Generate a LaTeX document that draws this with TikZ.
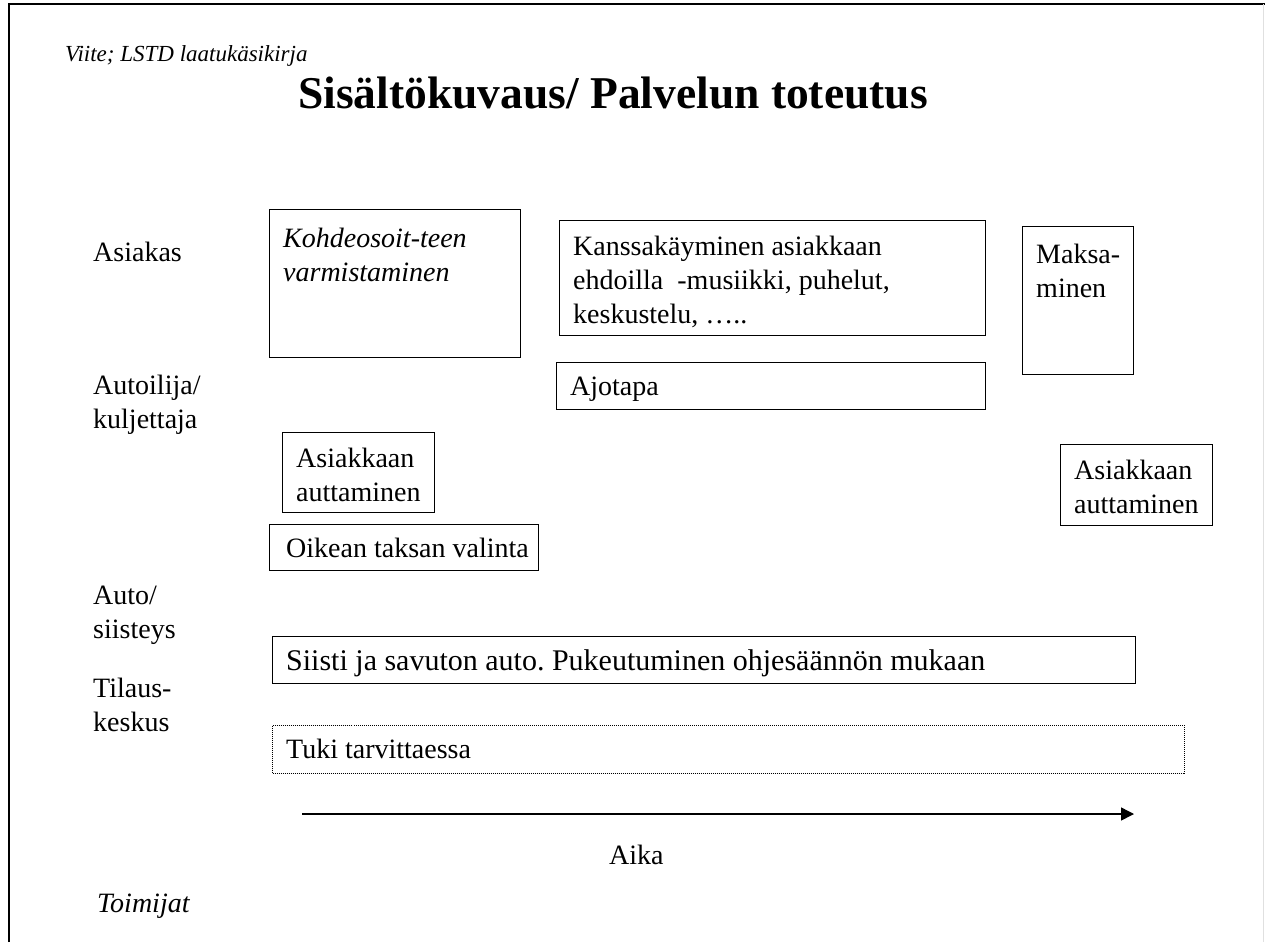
\documentclass[tikz,border=0pt]{standalone}
\usepackage{fontspec}
\setmainfont{Liberation Serif}
\usetikzlibrary{arrows.meta}
\frenchspacing
\begin{document}
\begin{tikzpicture}[x=1pt,y=-1pt,
  body/.style={inner sep=0pt,anchor=base west,font=\fontsize{28}{34}\selectfont},
  lbl/.style={body,align=left},
  itlbl/.style={lbl,font=\fontsize{28}{34}\selectfont\itshape},
  boxframe/.style={draw,line width=1.2pt,inner sep=0pt,anchor=north west},
  dotframe/.style={draw,line width=1pt,dash pattern=on 1pt off 1pt,inner sep=0pt,anchor=north west}]
\useasboundingbox (0,0) rectangle (1265,942);
% page frame
\draw[line width=2pt] (9,942) -- (9,4) -- (1265,4);
\draw[line width=1pt,black!12] (1263.5,4) -- (1263.5,942);

% headings (multi-line nodes are placed by the baseline of their last line)
\node[itlbl,font=\fontsize{23}{30}\selectfont\itshape] (ref) at (65,62) {Viite; LSTD laatukäsikirja};
\node[inner sep=0pt,anchor=base,font=\fontsize{45.5}{50}\bfseries\selectfont] (title) at (613,108) {Sisältökuvaus/ Palvelun toteutus};

% actors
\node[lbl] (asiakas) at (93,261) {Asiakas};
\node[lbl] (autoilija) at (93,428) {Autoilija/\\kuljettaja};
\node[lbl] (auto) at (93,638) {Auto/\\siisteys};
\node[lbl] (tilaus) at (93,731) {Tilaus-\\keskus};
\node[itlbl] (toimijat) at (97,912) {Toimijat};

% activity boxes
\node[boxframe,minimum width=251pt,minimum height=148pt] (kohde) at (269,209) {};
\node[itlbl] (kohdet) at (283,281) {Kohdeosoit-teen\\varmistaminen};

\node[boxframe,minimum width=426pt,minimum height=115pt] (kanssa) at (559,220) {};
\node[lbl] (kanssat) at (573,323) {Kanssakäyminen asiakkaan\\ehdoilla\ \ -musiikki, puhelut,\\keskustelu, …..};

\node[boxframe,minimum width=429pt,minimum height=47pt] (ajo) at (556,362) {};
\node[lbl] (ajot) at (570,395) {Ajotapa};

\node[boxframe,minimum width=111pt,minimum height=148pt] (maksu) at (1022,226) {};
\node[lbl] (maksut) at (1036,297) {Maksa-\\minen};

\node[boxframe,minimum width=152pt,minimum height=80pt] (apu1) at (282,432) {};
\node[lbl] (apu1t) at (296,501) {Asiakkaan\\auttaminen};

\node[boxframe,minimum width=152pt,minimum height=81pt] (apu2) at (1060,444) {};
\node[lbl] (apu2t) at (1074,513) {Asiakkaan\\auttaminen};

\node[boxframe,minimum width=269pt,minimum height=46pt] (taksi) at (269,524) {};
\node[lbl] (taksit) at (286,557) {Oikean taksan valinta};

\node[boxframe,minimum width=863pt,minimum height=47pt] (siisti) at (272,636) {};
\node[lbl,font=\fontsize{30}{36}\selectfont] (siistit) at (286,670) {Siisti ja savuton auto. Pukeutuminen ohjesäännön mukaan};

\node[dotframe,minimum width=912pt,minimum height=48pt] (tuki) at (272,725) {};
\node[lbl] (tukit) at (286,758) {Tuki tarvittaessa};

% time axis
\coordinate (t0) at (302,814);
\coordinate (t1) at (1134,814);
\draw[line width=1.5pt,-{Triangle[length=13pt,width=13pt]}] (t0) -- (t1);
\node[lbl] (aika) at (609,864) {Aika};
\end{tikzpicture}
\end{document}
